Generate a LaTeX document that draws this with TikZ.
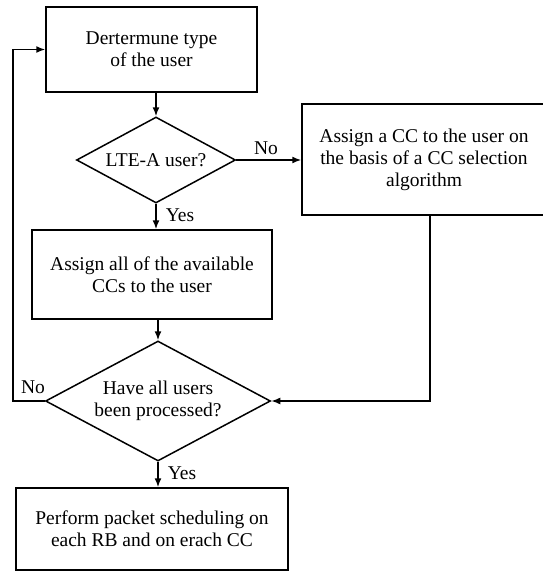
\documentclass[tikz,border=0pt]{standalone}
\usepackage{fontspec}
\setmainfont{Liberation Serif}
\usetikzlibrary{shapes.geometric,arrows.meta}
\begin{document}
\begin{tikzpicture}[>={Latex[length=9bp,width=7bp]},line join=miter,
  every node/.style={font=\fontsize{19.5bp}{22bp}\selectfont},
  stepbox/.style={draw,rectangle,line width=1.5bp,align=center,inner sep=0pt},
  choice/.style={draw,diamond,line width=1.5bp,align=center,inner sep=0pt,shape aspect=1.8},
  flow/.style={->,line width=1.5bp},
  tag/.style={inner sep=1bp}]
  \useasboundingbox (0bp,0bp) rectangle (543bp,-571bp);
  % Node: Type
  \node[stepbox,minimum width=211bp,minimum height=85bp] (type) at (151.5bp,-49.5bp) {Dertermune type\\of the user};
  % Node: LteA
  \node[choice,minimum width=159bp,minimum height=86bp] (ltea) at (156bp,-160bp) {LTE-A user?};
  % Node: AssignOne
  \node[stepbox,minimum width=244bp,minimum height=111bp] (one) at (424bp,-159.5bp) {Assign a CC to the user on\\the basis of a CC selection\\algorithm};
  % Node: AssignAll
  \node[stepbox,minimum width=240bp,minimum height=89bp] (all) at (152bp,-274.5bp) {Assign all of the available\\CCs to the user};
  % Node: Done
  \node[choice,minimum width=225bp,minimum height=120bp] (done) at (158bp,-401bp) {Have all users\\been processed?};
  % Node: Schedule
  \node[stepbox,minimum width=272bp,minimum height=82bp] (sched) at (152bp,-529bp) {Perform packet scheduling on\\each RB and on erach CC};
  % Edge: Type -> LteA
  \draw[flow] (ltea.north |- type.south) -- (ltea.north);
  % Edge: LteA -> AssignOne
  \draw[flow] (ltea.east) -- (ltea.east -| one.west);
  \node[tag] (no1) at (266bp,-148bp) {No};
  % Edge: LteA -> AssignAll
  \draw[flow] (ltea.south) -- (ltea.south |- all.north);
  \node[tag] (yes1) at (180bp,-215bp) {Yes};
  % Edge: AssignAll -> Done
  \draw[flow] (done.north |- all.south) -- (done.north);
  % Edge: AssignOne -> Done
  \draw[flow] (430bp,-215bp) coordinate (turn) -- (turn |- done.east) -- (done.east);
  % Edge: Done -> Type
  \coordinate (loop) at (13bp,0bp);
  \draw[flow] (done.west) -- (loop |- done.west) -- (loop |- type.west) -- (type.west);
  \node[tag] (no2) at (33bp,-387bp) {No};
  % Edge: Done -> Schedule
  \draw[flow] (done.south) -- (done.south |- sched.north);
  \node[tag] (yes2) at (182bp,-473bp) {Yes};
\end{tikzpicture}
\end{document}
